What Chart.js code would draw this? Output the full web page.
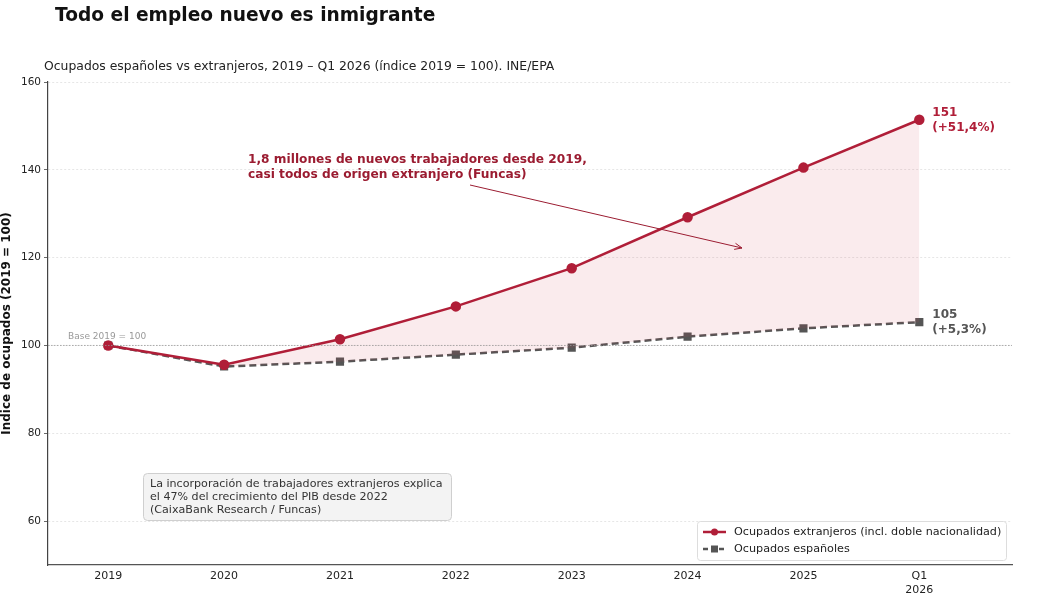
<!DOCTYPE html>
<html>
<head>
<meta charset="utf-8">
<script src="https://cdn.jsdelivr.net/npm/chart.js@4.4.1/dist/chart.umd.min.js"></script>
<style>
  html, body { margin: 0; padding: 0; background: #fff; }
  body { width: 1037px; height: 616px; position: relative; overflow: hidden; font-family: "DejaVu Sans", sans-serif; }
  #title { position: absolute; left: 55px; top: 4px; font-size: 18.6px; font-weight: bold; color: #111; }
  #subtitle { position: absolute; left: 44px; top: 58px; font-size: 12.4px; color: #222; }
  #wrap { position: absolute; left: 0; top: 0; width: 1037px; height: 616px; }
</style>
</head>
<body>
<div id="wrap"><canvas id="empleo-chart"></canvas></div>
<div id="title">Todo el empleo nuevo es inmigrante</div>
<div id="subtitle">Ocupados españoles vs extranjeros, 2019 – Q1 2026 (índice 2019 = 100). INE/EPA</div>
<script>
const periods = ['2019', '2020', '2021', '2022', '2023', '2024', '2025', ['Q1', '2026']];
const foreignIdx = [100, 95.6, 101.4, 108.9, 117.6, 129.2, 140.5, 151.4];
const spanishIdx = [100, 95.2, 96.3, 97.9, 99.5, 102.0, 103.9, 105.3];
const yTicks = [60, 80, 100, 120, 140, 160];

const RED = '#b01e38';
const GREY = '#555555';
const FONT = '"DejaVu Sans", sans-serif';

const toPoints = arr => arr.map((v, i) => ({x: i, y: v}));

// extra drawing: base line, end labels, arrow note, text box, legend
const extras = {
    id: 'extras',
    afterDatasetsDraw(chart) {
        const {ctx, chartArea: ca, scales: {x, y}} = chart;
        ctx.save();

        // base 100 line
        const y100 = y.getPixelForValue(100);
        ctx.strokeStyle = '#999';
        ctx.lineWidth = 0.8;
        ctx.setLineDash([1.5, 1.5]);
        ctx.beginPath();
        ctx.moveTo(ca.left, y100);
        ctx.lineTo(ca.right, y100);
        ctx.stroke();
        ctx.setLineDash([]);
        ctx.fillStyle = '#999';
        ctx.font = `9px ${FONT}`;
        ctx.textBaseline = 'bottom';
        ctx.fillText('Base 2019 = 100', ca.left + 20, y100 - 4);

        // end labels
        const last = periods.length - 1;
        const xl = x.getPixelForValue(last) + 13;
        ctx.font = `bold 12px ${FONT}`;
        ctx.textBaseline = 'middle';
        let yf = y.getPixelForValue(foreignIdx[last]);
        ctx.fillStyle = RED;
        ctx.fillText(Math.round(foreignIdx[last]), xl, yf - 7);
        ctx.fillText('(+51,4%)', xl, yf + 8);
        let ys = y.getPixelForValue(spanishIdx[last]);
        ctx.fillStyle = GREY;
        ctx.fillText(Math.round(spanishIdx[last]), xl, ys - 7);
        ctx.fillText('(+5,3%)', xl, ys + 8);

        // annotation
        ctx.fillStyle = '#9b1c31';
        ctx.font = `bold 12.2px ${FONT}`;
        ctx.fillText('1,8 millones de nuevos trabajadores desde 2019,', 248, 160);
        ctx.fillText('casi todos de origen extranjero (Funcas)', 248, 175);
        const ax0 = 470, ay0 = 185, ax1 = 742, ay1 = 248;
        ctx.strokeStyle = '#9b1c31';
        ctx.lineWidth = 1;
        ctx.beginPath();
        ctx.moveTo(ax0, ay0);
        ctx.lineTo(ax1, ay1);
        ctx.stroke();
        const ang = Math.atan2(ay1 - ay0, ax1 - ax0);
        ctx.beginPath();
        ctx.moveTo(ax1, ay1);
        ctx.lineTo(ax1 - 8 * Math.cos(ang - 0.4), ay1 - 8 * Math.sin(ang - 0.4));
        ctx.moveTo(ax1, ay1);
        ctx.lineTo(ax1 - 8 * Math.cos(ang + 0.4), ay1 - 8 * Math.sin(ang + 0.4));
        ctx.stroke();

        // note box
        ctx.fillStyle = '#f3f3f3';
        ctx.strokeStyle = '#cfcfcf';
        ctx.beginPath();
        ctx.roundRect(143.5, 473.5, 308, 47, 4);
        ctx.fill();
        ctx.stroke();
        ctx.fillStyle = '#333';
        ctx.font = `11.1px ${FONT}`;
        ['La incorporación de trabajadores extranjeros explica',
         'el 47% del crecimiento del PIB desde 2022',
         '(CaixaBank Research / Funcas)'].forEach((t, i) => ctx.fillText(t, 150, 484 + i * 13));

        // legend
        ctx.fillStyle = 'rgba(255,255,255,0.9)';
        ctx.strokeStyle = '#dddddd';
        ctx.beginPath();
        ctx.roundRect(697.5, 521.5, 309, 39, 3);
        ctx.fill();
        ctx.stroke();
        const items = [
            {label: 'Ocupados extranjeros (incl. doble nacionalidad)', color: RED, dash: [], marker: 'circle'},
            {label: 'Ocupados españoles', color: GREY, dash: [5, 3], marker: 'rect'}
        ];
        items.forEach((it, i) => {
            const ly = 532 + i * 17;
            ctx.strokeStyle = it.color;
            ctx.lineWidth = 2.5;
            ctx.setLineDash(it.dash);
            ctx.beginPath();
            ctx.moveTo(703, ly);
            ctx.lineTo(726, ly);
            ctx.stroke();
            ctx.setLineDash([]);
            ctx.fillStyle = it.color;
            ctx.beginPath();
            if (it.marker === 'circle') ctx.arc(714.5, ly, 3.5, 0, Math.PI * 2);
            else ctx.rect(711, ly - 3.5, 7, 7);
            ctx.fill();
            ctx.fillStyle = '#222';
            ctx.font = `11.2px ${FONT}`;
            ctx.fillText(it.label, 734, ly);
        });

        ctx.restore();
    }
};

const data = {
    datasets: [{
        label: 'Ocupados extranjeros (incl. doble nacionalidad)',
        data: toPoints(foreignIdx),
        borderColor: RED,
        backgroundColor: 'rgba(205, 70, 90, 0.11)',
        pointBackgroundColor: RED,
        pointBorderColor: RED,
        pointRadius: 4,
        borderWidth: 2.5,
        fill: '+1',
        order: 0
    }, {
        label: 'Ocupados españoles',
        data: toPoints(spanishIdx),
        borderColor: GREY,
        backgroundColor: GREY,
        pointStyle: 'rect',
        pointRadius: 4,
        borderWidth: 2.5,
        borderDash: [7, 4],
        fill: false,
        order: 1
    }]
};

const config = {
    type: 'line',
    data: data,
    options: {
        responsive: false,
        animation: false,
        layout: {padding: {top: 82, right: 25, left: 0, bottom: 0}},
        plugins: {legend: {display: false}, tooltip: {enabled: false}},
        scales: {
            x: {
                type: 'linear',
                min: -0.52,
                max: 7.8,
                afterBuildTicks: s => { s.ticks = periods.map((p, i) => ({value: i})); },
                afterFit: s => { s.height = 51; },
                ticks: {
                    callback: (v) => periods[v],
                    color: '#222',
                    font: {family: FONT, size: 11},
                    maxRotation: 0,
                    autoSkip: false,
                    padding: 1
                },
                grid: {display: false, drawTicks: true, tickLength: 4},
                border: {display: true, color: '#555', width: 1.2}
            },
            y: {
                min: 50,
                max: 160,
                afterBuildTicks: s => { s.ticks = yTicks.map(v => ({value: v})); },
                afterFit: s => { s.width = 48; },
                ticks: {color: '#222', font: {family: FONT, size: 10.5}, padding: 3},
                grid: {color: '#e0e0e0', lineWidth: 0.8, tickLength: 4, tickColor: '#444'},
                border: {display: true, color: '#444', width: 1.2, dash: [2, 2]},
                title: {
                    display: true,
                    text: 'Índice de ocupados (2019 = 100)',
                    font: {family: FONT, size: 12, weight: 'bold'},
                    color: '#111',
                    padding: 0
                }
            }
        }
    },
    plugins: [extras]
};

const canvas = document.getElementById('empleo-chart');
canvas.width = 1037;
canvas.height = 616;
new Chart(canvas, config);
</script>
</body>
</html>
